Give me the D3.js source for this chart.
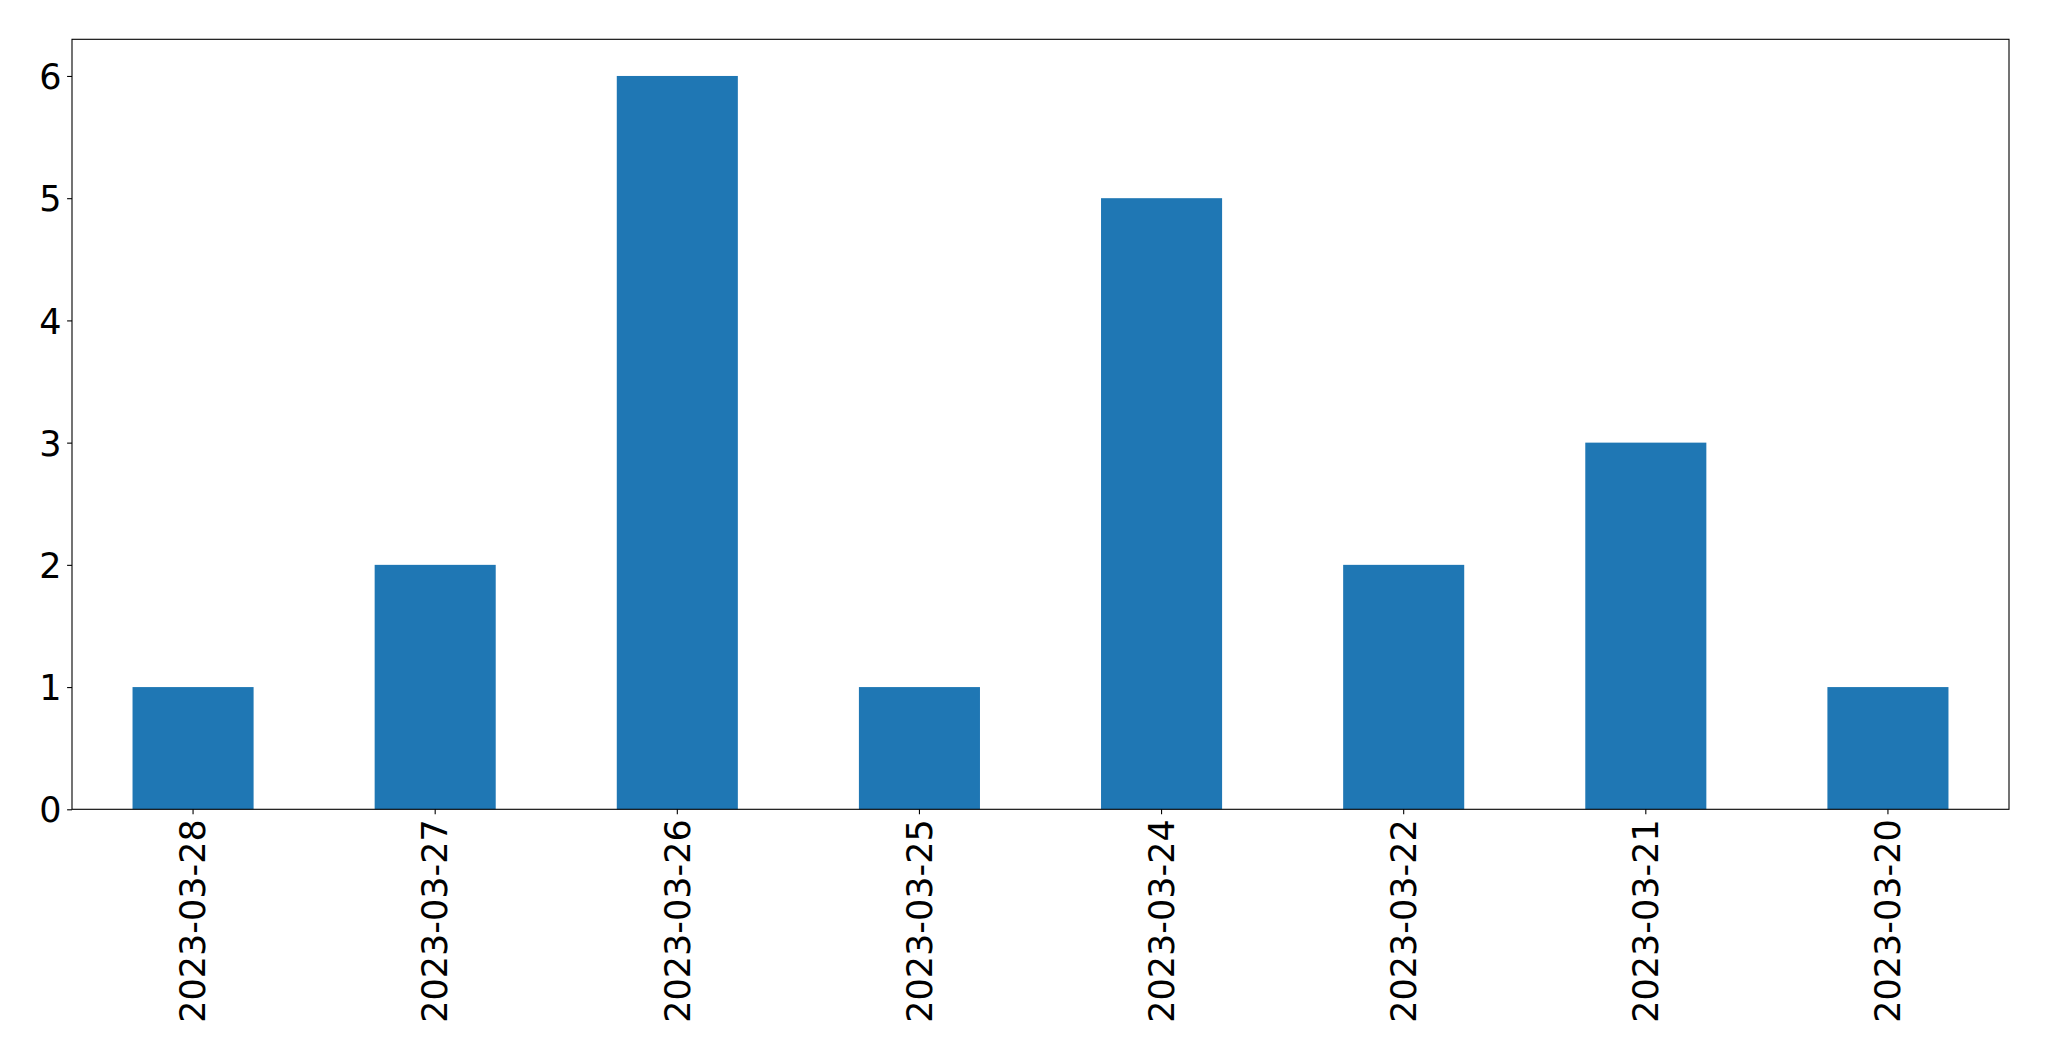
<!DOCTYPE html>
<html><head><meta charset="utf-8">
<script src="https://cdn.jsdelivr.net/npm/d3@7"></script>
<style>body{margin:0;background:#fff}svg{display:block}text{font-family:"DejaVu Sans",sans-serif}</style>
</head><body>
<script>
const categories = ["2023-03-28","2023-03-27","2023-03-26","2023-03-25","2023-03-24","2023-03-22","2023-03-21","2023-03-20"];
const values = [1,2,6,1,5,2,3,1];
const yTicks = [0,1,2,3,4,5,6];

(function(){
const W = 2049, H = 1061;
const mLeft = 72, mRight = 2009, mTop = 39.3, mBottom = 809.3;
const svg = d3.select("body").append("svg").attr("width", W).attr("height", H);

const x = d3.scaleBand().domain(categories).range([mLeft, mRight]).paddingInner(0.5).paddingOuter(0.25);
const y = d3.scaleLinear().domain([0, 6.3]).range([mBottom, mTop]);

svg.append("g").selectAll("rect").data(values).join("rect")
  .attr("x", (d,i) => x(categories[i]))
  .attr("width", x.bandwidth())
  .attr("y", d => y(d))
  .attr("height", d => y(0) - y(d))
  .attr("fill", "#1f77b4");

const fs = "35px";
const ya = svg.append("g").attr("transform", `translate(${mLeft},0)`)
  .call(d3.axisLeft(y).tickValues(yTicks).tickFormat(d3.format("d")).tickSizeOuter(0).tickSize(4.9).tickPadding(5.5));
ya.select(".domain").remove();
ya.selectAll("line").attr("stroke", "#000").attr("stroke-width", 1.1);
ya.selectAll("text").attr("font-size", fs).attr("fill", "#000").attr("dy", "0.36em");

const xa = svg.append("g").attr("transform", `translate(0,${mBottom})`)
  .call(d3.axisBottom(x).tickSizeOuter(0).tickSize(4.9).tickPadding(4.9));
xa.select(".domain").remove();
xa.selectAll("line").attr("stroke", "#000").attr("stroke-width", 1.1);
xa.selectAll("text").attr("font-size", fs).attr("fill", "#000")
  .attr("y", 0).attr("x", 0)
  .attr("text-anchor", "end")
  .attr("transform", "translate(0,10) rotate(-90)")
  .attr("dy", "0.35em");

svg.append("rect").attr("x", mLeft).attr("y", mTop).attr("width", mRight-mLeft).attr("height", mBottom-mTop)
  .attr("fill", "none").attr("stroke", "#000").attr("stroke-width", 1.1);
})();
</script>
</body></html>
